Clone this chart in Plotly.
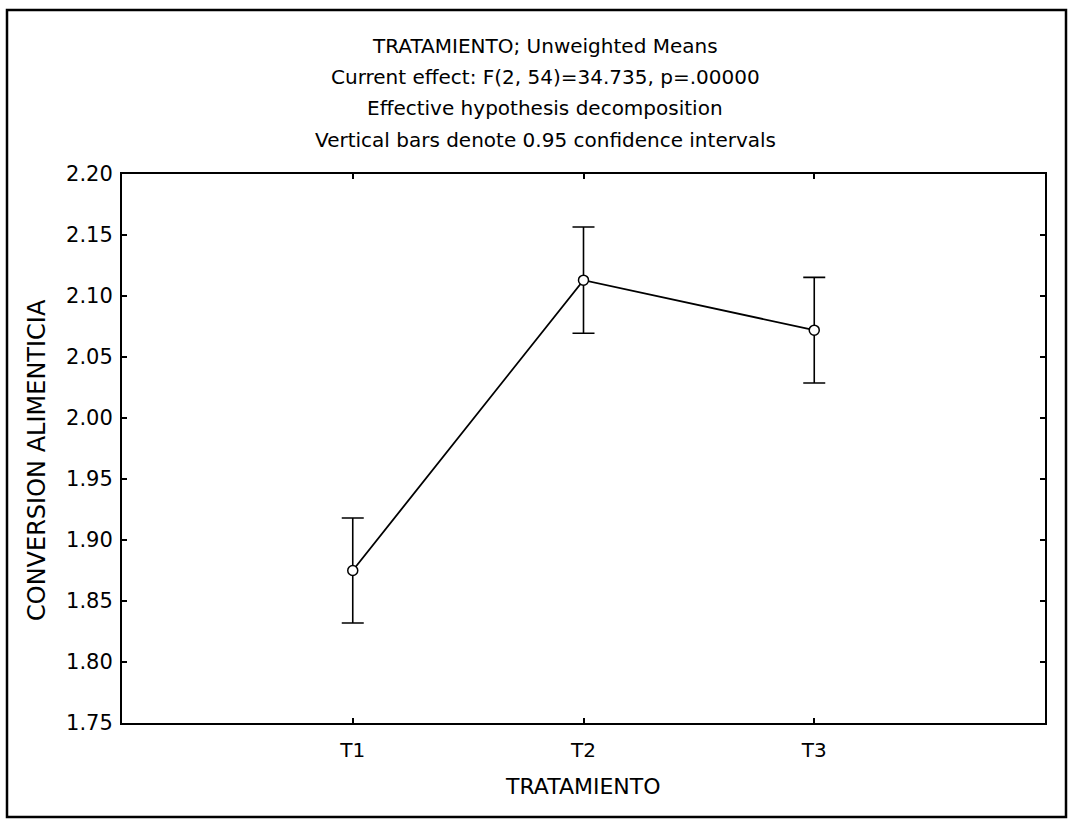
import plotly.graph_objects as go

categories = ["T1", "T2", "T3"]
means = [1.875, 2.113, 2.072]
ci_half = [0.043, 0.0435, 0.0433]
y_ticks = [1.75, 1.80, 1.85, 1.90, 1.95, 2.00, 2.05, 2.10, 2.15, 2.20]
y_tick_text = [f"{v:.2f}" for v in y_ticks]
title_lines = [
    "TRATAMIENTO; Unweighted Means",
    "Current effect: F(2, 54)=34.735, p=.00000",
    "Effective hypothesis decomposition",
    "Vertical bars denote 0.95 confidence intervals",
]
x_title = "TRATAMIENTO"
y_title = "CONVERSION ALIMENTICIA"

W, H = 1068, 819
L, R, T, B = 122, 1045, 174, 723
FONT = "DejaVu Sans, Liberation Sans, Arial, sans-serif"

fig = go.Figure()
fig.add_trace(go.Scatter(
    x=categories, y=means, mode="lines+markers",
    line=dict(color="black", width=1.8),
    marker=dict(symbol="circle", size=10, color="white",
                line=dict(color="black", width=1.5)),
    error_y=dict(type="data", array=ci_half, visible=True,
                 color="black", thickness=1.6, width=11),
    showlegend=False,
))

pw, ph = R - L, B - T
def px(x):
    return (x - L) / pw
def py(y):
    return (B - y) / ph

# outer border
fig.add_shape(type="rect", xref="paper", yref="paper",
              x0=px(7), x1=px(1066), y0=py(817), y1=py(10),
              line=dict(color="black", width=2.5), layer="below")

for i, t in enumerate(title_lines):
    fig.add_annotation(text=t, xref="paper", yref="paper",
                       x=px(545), y=py([46, 77, 108, 140][i]),
                       showarrow=False, xanchor="center", yanchor="middle",
                       font=dict(family=FONT, size=20, color="black"))

fig.add_annotation(text=x_title, xref="paper", yref="paper",
                   x=px(583), y=py(786), showarrow=False,
                   xanchor="center", yanchor="middle",
                   font=dict(family=FONT, size=22, color="black"))
fig.add_annotation(text=y_title, xref="paper", yref="paper",
                   x=px(37), y=py(460), showarrow=False, textangle=-90,
                   xanchor="center", yanchor="middle",
                   font=dict(family=FONT, size=24, color="black"))

fig.update_layout(
    width=W, height=H,
    margin=dict(l=L, r=W - R, t=T, b=H - B, pad=0),
    paper_bgcolor="white", plot_bgcolor="white",
    font=dict(family=FONT, color="black"),
    xaxis=dict(
        type="category", range=[-1, 3],
        showline=True, linecolor="black", linewidth=2, mirror="ticks",
        ticks="inside", ticklen=5, tickwidth=1.5, tickcolor="black",
        showgrid=False, zeroline=False, ticklabelstandoff=8,
        tickfont=dict(family=FONT, size=20, color="black"),
    ),
    yaxis=dict(
        range=[1.75, 2.20], tickvals=y_ticks, ticktext=y_tick_text,
        showline=True, linecolor="black", linewidth=2, mirror="ticks",
        ticks="inside", ticklen=5, tickwidth=1.5, tickcolor="black",
        showgrid=False, zeroline=False, ticklabelstandoff=3,
        tickfont=dict(family=FONT, size=21, color="black"),
    ),
)

fig.write_html("out.html")
